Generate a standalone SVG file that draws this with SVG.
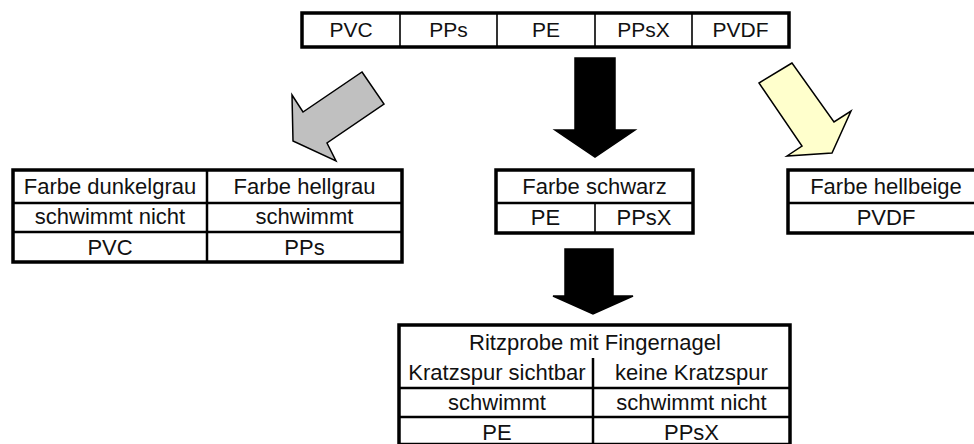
<svg xmlns="http://www.w3.org/2000/svg" width="974" height="444" viewBox="0 0 974 444">
<style>
  .bg{fill:#ffffff}
  .box{fill:#ffffff;stroke:#000;stroke-width:3.5}
  .in{stroke:#000;stroke-width:1.6;fill:none}
  .in2{stroke:#000;stroke-width:2.5;fill:none}
  text{font-family:"Liberation Sans",Arial,sans-serif;font-size:22px;fill:#111;text-anchor:middle}
  .t21{font-size:21px}
  .arr{stroke:#000;stroke-width:1.5;stroke-linejoin:miter}
</style>
<rect class="bg" x="0" y="0" width="974" height="444"/>

<g id="materials">
  <rect class="box" x="302" y="13" width="487" height="34"/>
  <line class="in" x1="400" y1="13" x2="400" y2="47"/>
  <line class="in" x1="497" y1="13" x2="497" y2="47"/>
  <line class="in" x1="595" y1="13" x2="595" y2="47"/>
  <line class="in" x1="692" y1="13" x2="692" y2="47"/>
  <text class="t21" x="351" y="37">PVC</text>
  <text class="t21" x="448.5" y="37">PPs</text>
  <text class="t21" x="546" y="37">PE</text>
  <text class="t21" x="643.5" y="37">PPsX</text>
  <text class="t21" x="740.5" y="37">PVDF</text>
</g>

<g id="connectors">
  <polygon class="arr" fill="#c0c0c0" points="362,72 384,104 327,143 336,161 293,141 292,95 303,112"/>
  <polygon class="arr" fill="#000000" points="575,58 615,58 615,130 635,130 595,157 555,130 575,130"/>
  <polygon class="arr" fill="#ffffcc" points="792,63 759,83 802,146 787,156 832,153 851,111 834,122"/>
  <polygon class="arr" fill="#000000" points="565,249 613,249 613,296 633,296 593,314 553,296 565,296"/>
</g>

<g id="grau">
  <rect class="box" x="13" y="170" width="389" height="92"/>
  <line class="in2" x1="13" y1="203" x2="402" y2="203"/>
  <line class="in2" x1="13" y1="232" x2="402" y2="232"/>
  <line class="in2" x1="207" y1="170" x2="207" y2="262"/>
  <text x="110" y="194">Farbe dunkelgrau</text>
  <text x="304.5" y="194">Farbe hellgrau</text>
  <text x="110" y="224">schwimmt nicht</text>
  <text x="304.5" y="224">schwimmt</text>
  <text x="110" y="255">PVC</text>
  <text x="304.5" y="255">PPs</text>
</g>

<g id="schwarz">
  <rect class="box" x="496" y="170" width="197" height="63"/>
  <line class="in2" x1="496" y1="203" x2="693" y2="203"/>
  <line class="in" x1="595" y1="203" x2="595" y2="233"/>
  <text x="594.5" y="194">Farbe schwarz</text>
  <text x="545.5" y="225">PE</text>
  <text x="644" y="225">PPsX</text>
</g>

<g id="hellbeige">
  <rect class="box" x="788" y="170" width="200" height="63"/>
  <line class="in2" x1="788" y1="203" x2="988" y2="203"/>
  <text x="886" y="194">Farbe hellbeige</text>
  <text x="886" y="225">PVDF</text>
</g>

<g id="ritzprobe">
  <rect class="box" x="399" y="325" width="391" height="119.5"/>
  <line class="in2" x1="593" y1="358" x2="593" y2="444"/>
  <line class="in2" x1="399" y1="388" x2="790" y2="388"/>
  <line class="in2" x1="399" y1="417" x2="790" y2="417"/>
  <text x="595" y="350">Ritzprobe mit Fingernagel</text>
  <text x="497" y="380">Kratzspur sichtbar</text>
  <text x="691.5" y="380">keine Kratzspur</text>
  <text x="497" y="410">schwimmt</text>
  <text x="691.5" y="410">schwimmt nicht</text>
  <text x="497" y="440">PE</text>
  <text x="691.5" y="440">PPsX</text>
</g>
</svg>
